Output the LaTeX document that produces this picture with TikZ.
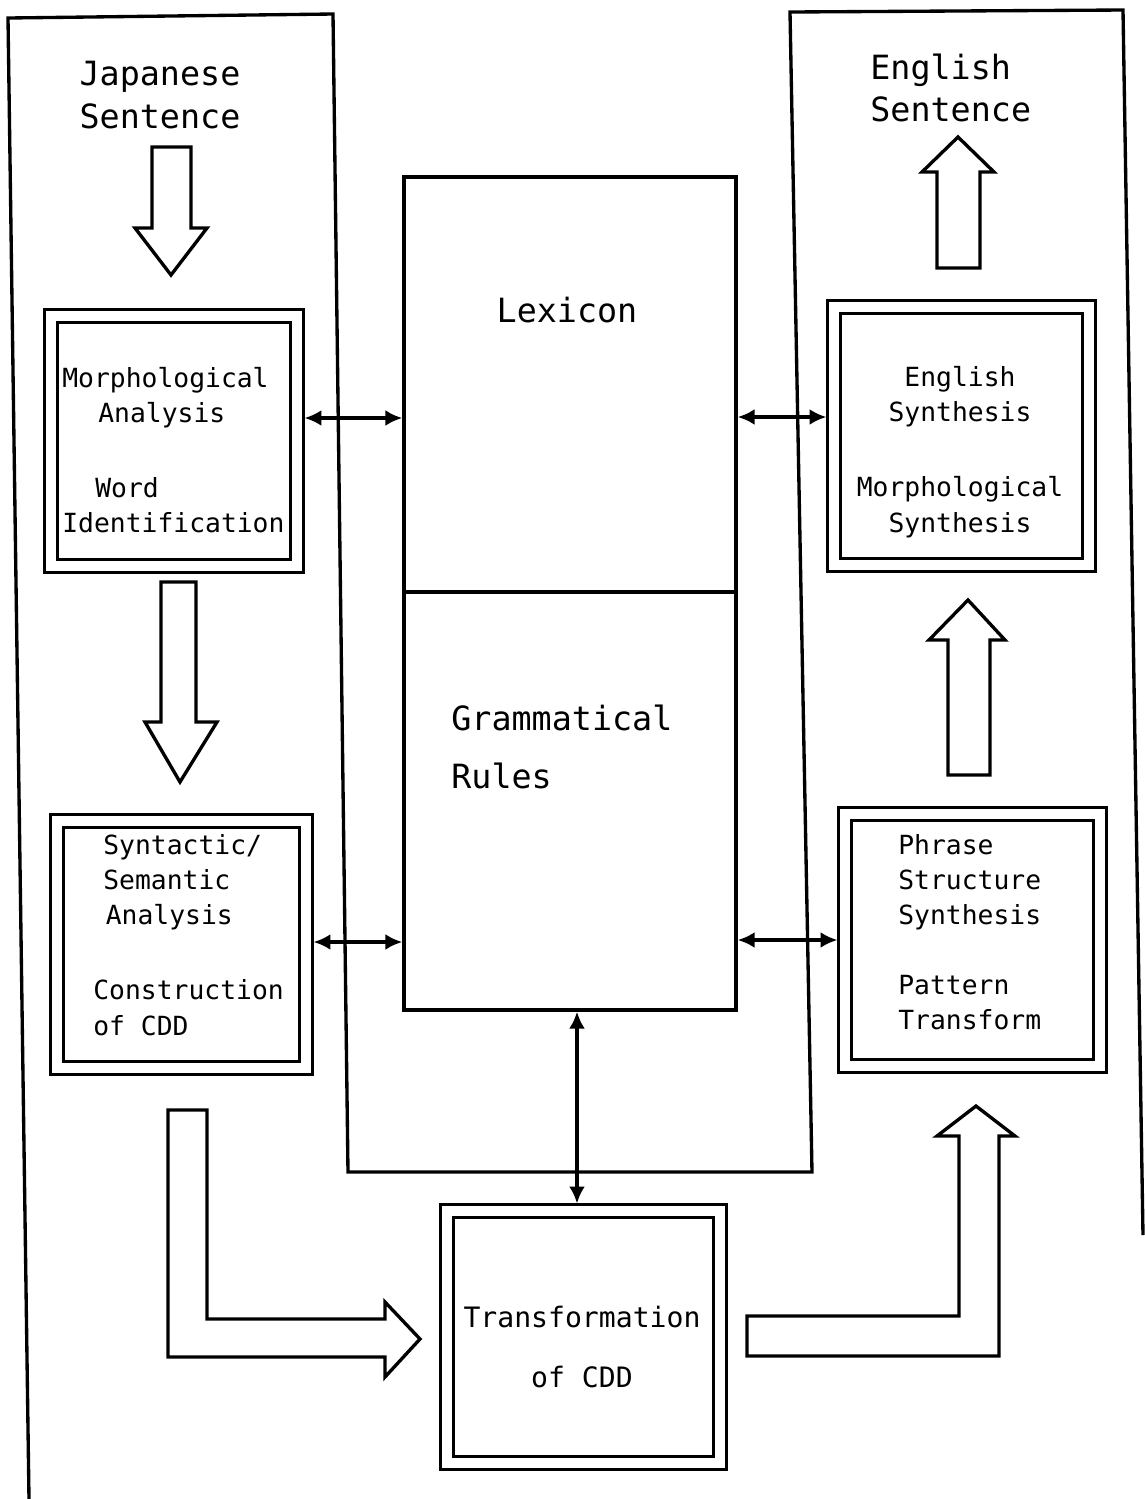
\documentclass[tikz,border=0pt]{standalone}
\usepackage{fontspec}
\newfontfamily\tw{DejaVu Sans Mono}
\usetikzlibrary{arrows.meta}
\tikzset{
  panel/.style={draw,line width=1.9pt,inner sep=0pt},
  twobox/.style={draw,line width=1.7pt,double,double distance=0.19cm,inner sep=0pt,outer sep=0.15cm},
  bigtxt/.style={font=\tw\fontsize{19}{24}\selectfont,inner sep=0pt},
  boxtxt/.style={font=\tw\fontsize{15}{20}\selectfont,inner sep=0pt,align=left},
  hollow/.style={draw,line width=1.9pt,line join=miter},
  link/.style={{Latex[length=3.4mm,width=3.2mm]}-{Latex[length=3.4mm,width=3.2mm]},line width=2.6pt}
}
\begin{document}
\begin{tikzpicture}[x=0.02cm,y=-0.02cm]
\useasboundingbox (0,0) rectangle (1144,1499);
% frame
\draw[line width=1.9pt,line join=miter](29,1499)--(8,18)--(333,14)--(348,1172)--(812,1172)--(790,12)--(1123,10)--(1143,1235);
% lexicon and rules
\node[panel,minimum width=6.64cm,minimum height=8.3cm](lex) at (570,384.5){};
\node[panel,minimum width=6.64cm,minimum height=8.36cm](gram) at (570,801){};
\node[bigtxt](lext) at (567,310){Lexicon};
\node[bigtxt,align=left,anchor=west](gramt) at (451,747){Grammatical\\[0.32cm]Rules};
% sentences
\node[bigtxt,align=center](jap) at (160,95){Japanese\\Sentence};
\node[bigtxt,align=left,anchor=west](eng) at (870,88){English\\Sentence};
% stages
\node[twobox,minimum width=4.92cm,minimum height=5cm](morph) at (174,441){};
\node[twobox,minimum width=4.98cm,minimum height=4.94cm](syn) at (181.5,944.5){};
\node[twobox,minimum width=5.1cm,minimum height=5.16cm](esyn) at (961.5,436){};
\node[twobox,minimum width=5.1cm,minimum height=5.04cm](phr) at (972.5,940){};
\node[twobox,minimum width=5.46cm,minimum height=5.04cm](trans) at (583.5,1337){};
\node[boxtxt,anchor=west](morpht) at (62,450){Morphological\\\hspace*{0.72cm}Analysis\\[0.8cm]\hspace*{0.66cm}Word\\Identification};
\node[boxtxt,anchor=west](synt) at (93,935){\hspace*{0.2cm}Syntactic/\\\hspace*{0.2cm}Semantic\\\hspace*{0.25cm}Analysis\\[0.8cm]Construction\\of CDD};
\node[boxtxt,align=center](esynt) at (960,452){English\\Synthesis\\[0.8cm]Morphological\\Synthesis};
\node[boxtxt,anchor=west](phrt) at (898,932){Phrase\\Structure\\Synthesis\\[0.7cm]Pattern\\Transform};
\node[boxtxt,align=center,font=\tw\fontsize{16}{20}\selectfont](transt) at (582,1347){Transformation\\[0.5cm]of CDD};
% block arrows
\draw[hollow](152,147)--(191,147)--(191,228)--(207,228)--(171,275)--(135,228)--(152,228)--cycle;
\draw[hollow](161,582)--(196,582)--(196,722)--(217,722)--(180,782)--(145,722)--(161,722)--cycle;
\draw[hollow](937,268)--(980,268)--(980,172)--(994,172)--(958,137)--(922,172)--(937,172)--cycle;
\draw[hollow](948,775)--(990,775)--(990,640)--(1005,640)--(968,600)--(929,640)--(948,640)--cycle;
\draw[hollow](168,1110)--(207,1110)--(207,1319)--(385,1319)--(385,1302)--(420,1339)--(385,1377)--(385,1357)--(168,1357)--cycle;
\draw[hollow](747,1316)--(959,1316)--(959,1136)--(937,1136)--(976,1106)--(1015,1136)--(999,1136)--(999,1356)--(747,1356)--cycle;
% links
\draw[link](morph.east|-0,418)--(lex.west|-0,418);
\draw[link](lex.east|-0,417)--(esyn.west|-0,417);
\draw[link](syn.east|-0,942)--(gram.west|-0,942);
\draw[link](gram.east|-0,940)--(phr.west|-0,940);
\draw[link](gram.south-|577,0)--(trans.north-|577,0);
\end{tikzpicture}
\end{document}
